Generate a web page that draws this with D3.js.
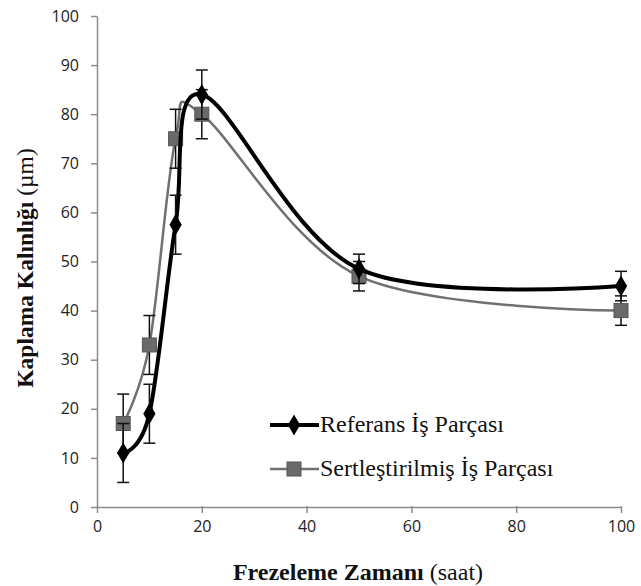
<!DOCTYPE html>
<html><head><meta charset="utf-8">
<script src="https://cdn.jsdelivr.net/npm/d3@7"></script>
<style>body{margin:0;background:#fff}</style>
</head><body>
<script>
const xTicks = [0, 20, 40, 60, 80, 100];
const yTicks = [0, 10, 20, 30, 40, 50, 60, 70, 80, 90, 100];
const times = [5, 10, 15, 20, 50, 100];
const refValues = [11, 19, 57.5, 84, 48.5, 45];
const refErrors = [6, 6, 6, 5, 3, 3];
const hardValues = [17, 33, 75, 80, 47, 40];
const hardErrors = [6, 6, 6, 5, 3, 3];
const seriesNames = ["Referans İş Parçası", "Sertleştirilmiş İş Parçası"];

const W = 641, H = 586;
const svg = d3.select("body").append("svg").attr("width", W).attr("height", H);
const x = d3.scaleLinear().domain([0, 100]).range([97, 621]);
const y = d3.scaleLinear().domain([0, 100]).range([507, 16]);
const axisColor = "#8c8c8c";

const gx = svg.append("g").attr("transform", `translate(0,${y(0)})`)
  .call(d3.axisBottom(x).tickValues(xTicks).tickSize(6).tickSizeOuter(0));
const gy = svg.append("g").attr("transform", `translate(${x(0)},0)`)
  .call(d3.axisLeft(y).tickValues(yTicks).tickSize(6).tickSizeOuter(0));
[gx, gy].forEach(g => {
  g.select(".domain").attr("stroke", axisColor).attr("stroke-width", 1.5);
  g.selectAll(".tick line").attr("stroke", axisColor).attr("stroke-width", 1.5);
  g.selectAll("text").attr("font-family", "'Open Sans', sans-serif").attr("font-size", 16).attr("fill", "#222");
});
gx.selectAll(".tick line").attr("y1", -1).attr("y2", 6);
gx.selectAll("text").attr("y", 14).attr("dy", "0.71em");
gy.selectAll("text").attr("x", -18);

const series = [
  {vals: refValues, errs: refErrors, color: "#000", width: 4, marker: "diamond"},
  {vals: hardValues, errs: hardErrors, color: "#707070", width: 2.5, marker: "square"}
];
const line = d3.line().x(d => x(d[0])).y(d => y(d[1])).curve(d3.curveCatmullRom.alpha(0));

function drawMarker(g, type, cx, cy) {
  if (type === "diamond") {
    g.append("path").attr("d", d3.symbol(d3.symbolDiamond, 130)()).attr("transform", `translate(${cx},${cy})`).attr("fill", "#000");
  } else {
    g.append("rect").attr("x", cx - 7).attr("y", cy - 7).attr("width", 14).attr("height", 14)
      .attr("fill", "#6a6a6a").attr("stroke", "#555").attr("stroke-width", 1);
  }
}

[1, 0].forEach(i => {
  const s = series[i];
  const pts = times.map((t, j) => [t, s.vals[j]]);
  const g = svg.append("g");
  g.append("path").datum(pts).attr("d", line).attr("fill", "none").attr("stroke", s.color).attr("stroke-width", s.width);
  pts.forEach((p, j) => {
    const e = s.errs[j];
    const px = x(p[0]);
    g.append("line").attr("x1", px).attr("x2", px).attr("y1", y(p[1] - e)).attr("y2", y(p[1] + e)).attr("stroke", "#111").attr("stroke-width", 1.5);
    [p[1] - e, p[1] + e].forEach(v => g.append("line").attr("x1", px - 6).attr("x2", px + 6).attr("y1", y(v)).attr("y2", y(v)).attr("stroke", "#111").attr("stroke-width", 1.5));
  });
  pts.forEach(p => drawMarker(g, s.marker, x(p[0]), y(p[1])));
});

const leg = svg.append("g");
[0, 1].forEach(i => {
  const s = series[i];
  const ly = i === 0 ? 425 : 469;
  leg.append("line").attr("x1", 270).attr("x2", 319).attr("y1", ly).attr("y2", ly).attr("stroke", s.color).attr("stroke-width", s.width);
  drawMarker(leg, s.marker, 294, ly);
  leg.append("text").attr("x", 320).attr("y", ly + 7).attr("font-family", "'Liberation Serif', serif").attr("font-size", 24).attr("fill", "#111").text(seriesNames[i]);
});

const xt = svg.append("text").attr("x", 358).attr("y", 580).attr("text-anchor", "middle")
  .attr("font-family", "'Liberation Serif', serif").attr("font-size", 24).attr("fill", "#111");
xt.append("tspan").attr("font-weight", "bold").text("Frezeleme Zamanı");
xt.append("tspan").text(" (saat)");
const yt = svg.append("text").attr("transform", "translate(33,268) rotate(-90)").attr("text-anchor", "middle")
  .attr("font-family", "'Liberation Serif', serif").attr("font-size", 23.5).attr("fill", "#111");
yt.append("tspan").attr("font-weight", "bold").text("Kaplama Kalınlığı");
yt.append("tspan").text(" (µm)");
</script>
</body></html>
